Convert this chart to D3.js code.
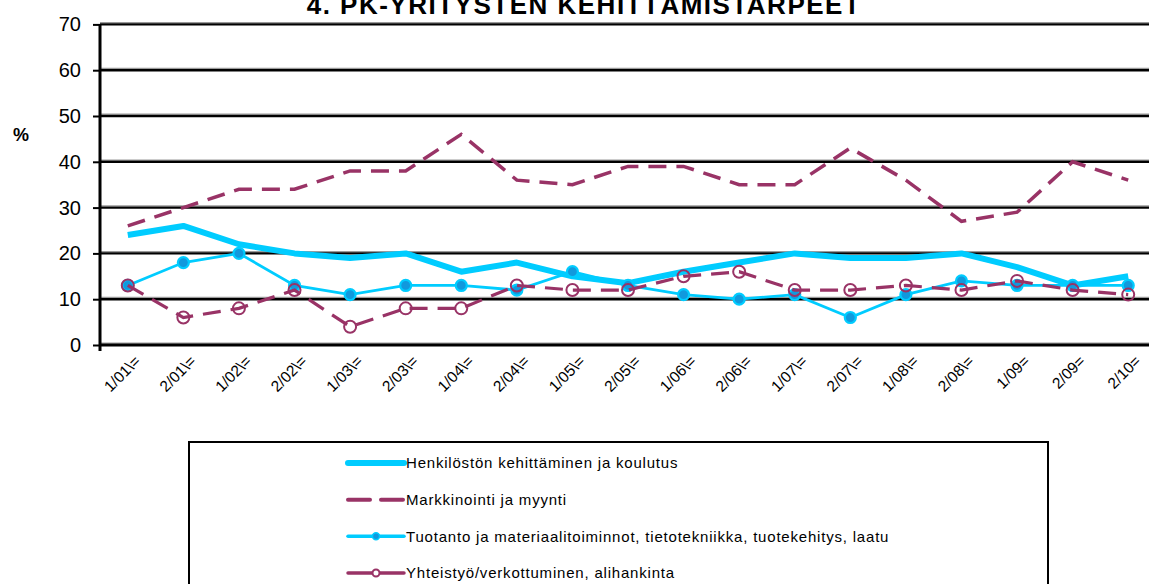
<!DOCTYPE html>
<html>
<head>
<meta charset="utf-8">
<script src="https://cdn.jsdelivr.net/npm/d3@7"></script>
<style>
html,body{margin:0;padding:0;background:#fff;overflow:hidden;}
svg{display:block;font-family:"Liberation Sans",Arial,sans-serif;}
</style>
</head>
<body>
<svg id="chart" width="1149" height="584"></svg>
<script>
const title = "4. PK-YRITYSTEN KEHITTÄMISTARPEET";
const yLabel = "%";
const categories = ["1/01\\=","2/01\\=","1/02\\=","2/02\\=","1/03\\=","2/03\\=","1/04\\=","2/04\\=","1/05\\=","2/05\\=","1/06\\=","2/06\\=","1/07\\=","2/07\\=","1/08\\=","2/08\\=","1/09=","2/09=","2/10="];
const yTicks = [0,10,20,30,40,50,60,70];

const henkilosto   = [24,26,22,20,19,20,16,18,15,13.5,16,18,20,19,19,20,17,13,15];
const markkinointi = [26,30,34,34,38,38,46,36,35,39,39,35,35,43,36,27,29,40,36];
const tuotanto     = [13,18,20,13,11,13,13,12,16,13,11,10,11,6,11,14,13,13,13];
const yhteistyo    = [13,6,8,12,4,8,8,13,12,12,15,16,12,12,13,12,14,12,11];

const seriesNames = [
  "Henkilöstön kehittäminen ja koulutus",
  "Markkinointi ja myynti",
  "Tuotanto ja materiaalitoiminnot, tietotekniikka, tuotekehitys, laatu",
  "Yhteistyö/verkottuminen, alihankinta"
];

const CYAN = "#00CCFF", PURPLE = "#993366", BLUEFILL = "#1199DD";

const svg = d3.select("#chart");
const W = 1149, H = 584;
const plot = {left: 100, right: 1156, top: 24.4, bottom: 345};

const x = d3.scalePoint().domain(categories).range([plot.left, plot.right]).padding(0.5);
const y = d3.scaleLinear().domain([0, 70]).range([plot.bottom, plot.top]);

// gridlines
const grid = svg.append("g");
yTicks.forEach(t => {
  grid.append("line").attr("x1", plot.left).attr("x2", W)
    .attr("y1", y(t) - 1.8).attr("y2", y(t) - 1.8)
    .attr("stroke", "#9a9a9a").attr("stroke-width", 1.2);
  grid.append("line").attr("x1", plot.left).attr("x2", W)
    .attr("y1", y(t)).attr("y2", y(t))
    .attr("stroke", "#000").attr("stroke-width", t === 0 ? 3 : 2.4);
});

// y axis
const yAxis = d3.axisLeft(y).tickValues(yTicks).tickSize(7).tickPadding(12).tickFormat(d3.format("d"));
const gy = svg.append("g").attr("transform", `translate(${plot.left},0)`).call(yAxis);
gy.select(".domain").remove();
gy.selectAll(".tick line").attr("stroke", "#000").attr("stroke-width", 2);
gy.selectAll(".tick text").attr("font-size", 20).attr("fill", "#000")
  .attr("font-family", "Liberation Sans, Arial, sans-serif");
svg.append("line").attr("x1", plot.left).attr("x2", plot.left)
  .attr("y1", plot.top).attr("y2", plot.bottom + 6)
  .attr("stroke", "#000").attr("stroke-width", 3);

// x axis labels
const xAxis = d3.axisBottom(x).tickSize(0).tickPadding(0);
const gx = svg.append("g").attr("transform", `translate(0,${plot.bottom})`).call(xAxis);
gx.select(".domain").remove();
gx.selectAll(".tick text")
  .attr("font-size", 15.5).attr("fill", "#000")
  .attr("font-family", "Liberation Sans, Arial, sans-serif")
  .attr("text-anchor", "end")
  .attr("dy", null)
  .attr("y", 0)
  .attr("transform", "translate(13,17) rotate(-45)");

// title & y label
svg.append("text").attr("x", 584).attr("y", 14).attr("text-anchor", "middle")
  .attr("font-size", 26).attr("font-weight", "bold").attr("letter-spacing", 1.5).text(title);
svg.append("text").attr("x", 21).attr("y", 141).attr("text-anchor", "middle")
  .attr("font-size", 18).attr("font-weight", "bold").text(yLabel);

const line = d3.line().x((d, i) => x(categories[i])).y(d => y(d));

// series
svg.append("path").datum(henkilosto).attr("d", line)
  .attr("fill", "none").attr("stroke", CYAN).attr("stroke-width", 6).attr("stroke-linejoin", "round");
svg.append("path").datum(markkinointi).attr("d", line)
  .attr("fill", "none").attr("stroke", PURPLE).attr("stroke-width", 3.5).attr("stroke-dasharray", "18,10");
svg.append("path").datum(tuotanto).attr("d", line)
  .attr("fill", "none").attr("stroke", CYAN).attr("stroke-width", 2.8);
svg.append("g").selectAll("circle").data(tuotanto).join("circle")
  .attr("cx", (d, i) => x(categories[i])).attr("cy", d => y(d)).attr("r", 5.5)
  .attr("fill", BLUEFILL).attr("stroke", CYAN).attr("stroke-width", 2.2);
svg.append("path").datum(yhteistyo).attr("d", line)
  .attr("fill", "none").attr("stroke", PURPLE).attr("stroke-width", 3.2).attr("stroke-dasharray", "18,10");
svg.append("g").selectAll("circle").data(yhteistyo).join("circle")
  .attr("cx", (d, i) => x(categories[i])).attr("cy", d => y(d)).attr("r", 6)
  .attr("fill", "none").attr("stroke", PURPLE).attr("stroke-width", 2);

// legend
const lg = svg.append("g");
lg.append("rect").attr("x", 189).attr("y", 442).attr("width", 859).attr("height", 170)
  .attr("fill", "#fff").attr("stroke", "#000").attr("stroke-width", 2);
const legY = d3.scalePoint().domain(seriesNames).range([463, 573]);
const sx0 = 348, sx1 = 404;
seriesNames.forEach((name, k) => {
  const cy = legY(name);
  const g = lg.append("g");
  if (k === 0) {
    g.append("line").attr("x1", sx0).attr("x2", sx1).attr("y1", cy).attr("y2", cy)
      .attr("stroke", CYAN).attr("stroke-width", 6).attr("stroke-linecap", "round");
  } else if (k === 1) {
    g.append("line").attr("x1", sx0).attr("x2", sx1).attr("y1", cy).attr("y2", cy)
      .attr("stroke", PURPLE).attr("stroke-width", 4).attr("stroke-linecap", "round")
      .attr("stroke-dasharray", "22,11");
  } else if (k === 2) {
    g.append("line").attr("x1", sx0).attr("x2", sx1).attr("y1", cy).attr("y2", cy)
      .attr("stroke", CYAN).attr("stroke-width", 3.5).attr("stroke-linecap", "round");
    g.append("circle").attr("cx", (sx0 + sx1) / 2).attr("cy", cy).attr("r", 3.5)
      .attr("fill", BLUEFILL).attr("stroke", CYAN).attr("stroke-width", 1.5);
  } else {
    g.append("line").attr("x1", sx0).attr("x2", sx1).attr("y1", cy).attr("y2", cy)
      .attr("stroke", PURPLE).attr("stroke-width", 3.5).attr("stroke-linecap", "round");
    g.append("circle").attr("cx", (sx0 + sx1) / 2).attr("cy", cy).attr("r", 3.5)
      .attr("fill", "#fff").attr("stroke", PURPLE).attr("stroke-width", 2);
  }
  g.append("text").attr("x", sx1 + 2).attr("y", cy).attr("dy", "0.35em")
    .attr("font-size", 15).attr("letter-spacing", 0.8).attr("fill", "#000").text(name);
});
</script>
</body>
</html>
